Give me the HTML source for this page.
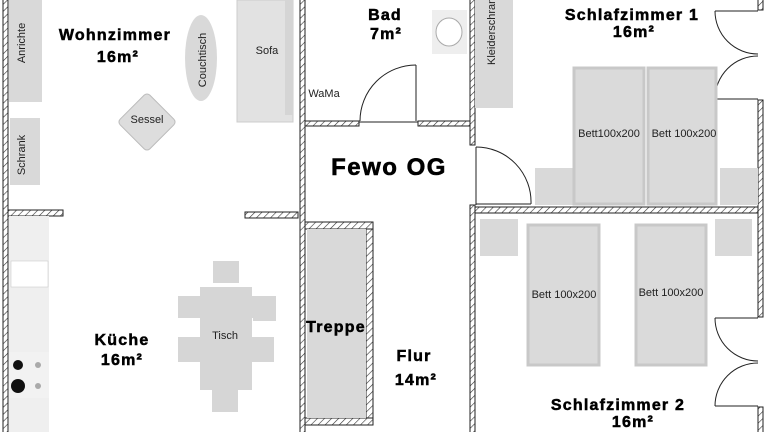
<!DOCTYPE html>
<html><head><meta charset="utf-8"><style>
html,body{margin:0;padding:0;background:#fff;}
svg{display:block;}
text{font-family:"Liberation Sans","DejaVu Sans",sans-serif;}
.b{font-weight:bold;font-size:16px;fill:#000;letter-spacing:1.2px;stroke:#000;stroke-width:0.5px;}
.s{font-size:11px;fill:#222;}
</style></head><body>
<svg width="768" height="432" viewBox="0 0 768 432" xmlns="http://www.w3.org/2000/svg">
<defs>
<pattern id="h" width="5" height="5" patternUnits="userSpaceOnUse" patternTransform="rotate(45)">
<rect width="5" height="5" fill="#fff"/><line x1="0" y1="0" x2="0" y2="5" stroke="#333" stroke-width="1.2"/>
</pattern>
</defs>
<rect width="768" height="432" fill="#fff"/>
<g stroke="#222" stroke-width="1" fill="url(#h)">
<rect x="3" y="-2" width="5" height="440"/>
<rect x="300" y="-2" width="5" height="440"/>
<rect x="305" y="121" width="54" height="5"/>
<rect x="418" y="121" width="53" height="5"/>
<rect x="470" y="-2" width="5" height="147"/>
<rect x="470" y="205" width="5" height="230"/>
<rect x="475" y="207" width="283" height="6"/>
<rect x="758" y="-2" width="5" height="12"/>
<rect x="758" y="100" width="5" height="217"/>
<rect x="758" y="407" width="5" height="30"/>
<rect x="8" y="210" width="55" height="6"/>
<rect x="245" y="212" width="53" height="6"/>
<rect x="305" y="222" width="68" height="7"/>
<rect x="366" y="229" width="7" height="196"/>
<rect x="305" y="418" width="68" height="7"/>
</g>
<g stroke="#222" stroke-width="1" fill="none">
<line x1="359" y1="122" x2="418" y2="122"/>
<line x1="416" y1="65" x2="416" y2="121"/>
<path d="M360 121 A56 56 0 0 1 416 65"/>
<line x1="476" y1="147" x2="476" y2="205"/>
<line x1="476" y1="204" x2="531" y2="204"/>
<path d="M476 147 A55 55 0 0 1 531 204"/>
<line x1="715" y1="11" x2="758" y2="11"/>
<line x1="715" y1="99" x2="758" y2="99"/>
<path d="M715 11 A43 43 0 0 0 758 54"/>
<path d="M715 99 A43 43 0 0 1 758 56"/>
<line x1="715" y1="318" x2="758" y2="318"/>
<line x1="715" y1="406" x2="758" y2="406"/>
<path d="M715 318 A43 43 0 0 0 758 361"/>
<path d="M715 406 A43 43 0 0 1 758 363"/>
<line x1="305" y1="218" x2="305" y2="430"/>
</g>
<g fill="#d9d9d9">
<rect x="9" y="0" width="33" height="102"/>
<rect x="10" y="118" width="30" height="67"/>
<ellipse cx="201" cy="58" rx="16" ry="43"/>
<rect x="237" y="0" width="56" height="122" fill="#e2e2e2" stroke="#ccc"/>
<rect x="285" y="0" width="8" height="115" fill="#d5d5d5"/>
<rect x="475" y="0" width="38" height="108"/>
<rect x="535" y="168" width="38" height="37"/>
<rect x="720" y="168" width="38" height="37"/>
<rect x="480" y="219" width="38" height="37"/>
<rect x="715" y="219" width="37" height="37"/>
<rect x="307" y="229" width="59" height="189"/>
</g>
<rect x="432" y="10" width="35" height="44" fill="#eee"/>
<ellipse cx="449" cy="32" rx="13" ry="14" fill="#fff" stroke="#aaa"/>
<g transform="translate(147,122) rotate(45)"><rect x="-21" y="-21" width="42" height="42" rx="4" fill="#ddd" stroke="#bbb"/></g>
<g fill="#dadada" stroke="#c8c8c8" stroke-width="3">
<rect x="574" y="68" width="70" height="136"/>
<rect x="648" y="68" width="68" height="136"/>
<rect x="528" y="225" width="71" height="140"/>
<rect x="636" y="225" width="70" height="140"/>
</g>
<rect x="9" y="216" width="40" height="216" fill="#efefef"/>
<rect x="11" y="261" width="37" height="26" fill="#fff" stroke="#ccc" stroke-width="0.6"/>
<rect x="9" y="352" width="40" height="46" fill="#f2f2f2"/>
<circle cx="18" cy="365" r="5" fill="#111"/>
<circle cx="18" cy="386" r="7" fill="#111"/>
<circle cx="38" cy="365" r="3" fill="#aaa"/>
<circle cx="38" cy="386" r="3" fill="#aaa"/>
<g fill="#d6d6d6">
<rect x="213" y="261" width="26" height="22"/>
<rect x="178" y="296" width="96" height="22"/>
<rect x="253" y="296" width="23" height="25"/>
<rect x="178" y="337" width="96" height="25"/>
<rect x="200" y="287" width="52" height="103"/>
<rect x="212" y="390" width="26" height="22"/>
</g>
<text class="b" x="115" y="40" text-anchor="middle">Wohnzimmer</text>
<text class="b" x="118" y="62" text-anchor="middle">16m²</text>
<text class="b" x="385" y="20" text-anchor="middle">Bad</text>
<text class="b" x="386" y="39" text-anchor="middle">7m²</text>
<text class="b" x="632" y="20" text-anchor="middle">Schlafzimmer 1</text>
<text class="b" x="634" y="37" text-anchor="middle">16m²</text>
<text x="389" y="175" text-anchor="middle" style="font-weight:bold;font-size:24px;letter-spacing:1.5px;stroke:#000;stroke-width:0.6px">Fewo OG</text>
<text class="b" x="336" y="332" text-anchor="middle">Treppe</text>
<text class="b" x="122" y="345" text-anchor="middle">Küche</text>
<text class="b" x="122" y="365" text-anchor="middle">16m²</text>
<text class="b" x="414" y="361" text-anchor="middle">Flur</text>
<text class="b" x="416" y="385" text-anchor="middle">14m²</text>
<text class="b" x="618" y="410" text-anchor="middle">Schlafzimmer 2</text>
<text class="b" x="633" y="427" text-anchor="middle">16m²</text>
<text class="s" x="267" y="54" text-anchor="middle">Sofa</text>
<text class="s" x="147" y="123" text-anchor="middle">Sessel</text>
<text class="s" x="324" y="97" text-anchor="middle">WaMa</text>
<text class="s" x="225" y="339" text-anchor="middle">Tisch</text>
<text class="s" x="609" y="137" text-anchor="middle">Bett100x200</text>
<text class="s" x="684" y="137" text-anchor="middle">Bett 100x200</text>
<text class="s" x="564" y="298" text-anchor="middle">Bett 100x200</text>
<text class="s" x="671" y="296" text-anchor="middle">Bett 100x200</text>
<text class="s" transform="translate(25,43) rotate(-90)" text-anchor="middle">Anrichte</text>
<text class="s" transform="translate(25,155) rotate(-90)" text-anchor="middle">Schrank</text>
<text class="s" transform="translate(206,60) rotate(-90)" text-anchor="middle">Couchtisch</text>
<text class="s" transform="translate(495,65) rotate(-90)" x="0" y="0">Kleiderschrank</text>
</svg>
</body></html>
